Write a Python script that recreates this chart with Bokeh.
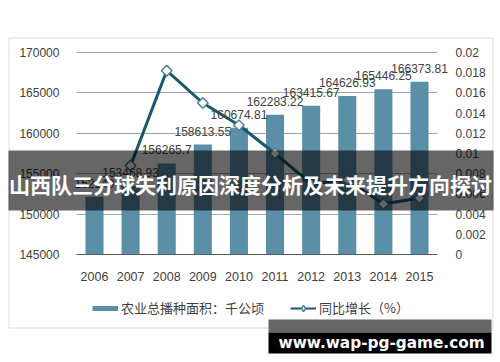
from bokeh.plotting import figure
from bokeh.models import (ColumnDataSource, Range1d, LinearAxis, FixedTicker,
                          CustomJSTickFormatter, BasicTickFormatter, LabelSet,
                          BoxAnnotation, Label, Legend, LegendItem)
from bokeh.core.properties import value
from bokeh.embed import file_html
from bokeh.resources import INLINE

years = ["2006", "2007", "2008", "2009", "2010", "2011", "2012", "2013", "2014", "2015"]
area = [152149.0, 153468.93, 156265.7, 158613.55, 160674.81, 162283.22,
        163415.67, 164626.93, 165446.25, 166373.81]
area_labels = ["152149", "153468.93", "156265.7", "158613.55", "160674.81", "162283.22",
               "163415.67", "164626.93", "165446.25", "166373.81"]
growth_years = ["2007", "2008", "2009", "2010", "2011", "2012", "2013", "2014", "2015"]
growth = [0.0088, 0.0182, 0.0150, 0.0128, 0.0100, 0.0070, 0.0074, 0.0050, 0.0056]
left_ticks = [145000, 150000, 155000, 160000, 165000, 170000]
right_ticks = [0, 0.002, 0.004, 0.006, 0.008, 0.01, 0.012, 0.014, 0.016, 0.018, 0.02]
title_text = "山西队三分球失利原因深度分析及未来提升方向探讨"
bar_name = "农业总播种面积：千公顷"
line_name = "同比增长（%）"
watermark = "www.wap-pg-game.com"

BAR = "#5b8fa7"
LINE = "#17596e"
TXT = "#404040"
NUM_FONT = "Liberation Sans"

xs = [int(y) for y in years]
gxs = [int(y) for y in growth_years]
x_lo, x_hi = xs[0] - 0.5, xs[-1] + 0.5

W, H = 500, 362
# plot region in pixels: x 76..437, y 52..254
px_per_year = (419 - 94) / 9.0
x_start = xs[0] - 94 / px_per_year
x_end = xs[-1] + (W - 419) / px_per_year
ppv = (254 - 52) / (left_ticks[-1] - left_ticks[0])
y_start = left_ticks[0] - (H - 254) / ppv
y_end = left_ticks[-1] + 52 / ppv
ppg = (254 - 52) / right_ticks[-1]
g_start = -(H - 254) / ppg
g_end = right_ticks[-1] + 52 / ppg

p = figure(width=W, height=H, x_range=Range1d(x_start, x_end), y_range=Range1d(y_start, y_end),
           output_backend="svg", toolbar_location=None,
           x_axis_location=None, y_axis_location=None, min_border=0)
p.outline_line_color = None
p.xgrid.visible = False
p.ygrid.ticker = FixedTicker(ticks=left_ticks[1:])
p.ygrid.grid_line_color = "#a6a6a6"
p.ygrid.cross_bounds = (x_lo, x_hi)

ly = LinearAxis(fixed_location=x_lo, ticker=FixedTicker(ticks=left_ticks),
                formatter=BasicTickFormatter(use_scientific=False))
ly.axis_line_color = None
ly.major_tick_line_color = None
ly.minor_tick_line_color = None
ly.major_label_standoff = 11
ly.major_label_text_font = NUM_FONT
ly.major_label_text_font_size = "12px"
ly.major_label_text_color = TXT
p.add_layout(ly, "left")

xa = LinearAxis(fixed_location=left_ticks[0], ticker=FixedTicker(ticks=xs),
                formatter=BasicTickFormatter(use_scientific=False), bounds=(x_lo, x_hi))
xa.axis_line_color = "#595959"
xa.major_tick_line_color = None
xa.minor_tick_line_color = None
xa.major_label_standoff = 11
xa.major_label_text_font = NUM_FONT
xa.major_label_text_font_size = "12.5px"
xa.major_label_text_color = TXT
p.add_layout(xa, "below")

p.extra_y_ranges = {"g": Range1d(g_start, g_end)}
ra = LinearAxis(y_range_name="g", fixed_location=x_hi, ticker=FixedTicker(ticks=right_ticks),
                formatter=CustomJSTickFormatter(code="return String(parseFloat(tick.toFixed(3)));"))
ra.axis_line_color = None
ra.major_tick_line_color = None
ra.minor_tick_line_color = None
ra.major_label_standoff = 12
ra.major_label_text_font = NUM_FONT
ra.major_label_text_font_size = "12px"
ra.major_label_text_color = TXT
p.add_layout(ra, "right")

bsrc = ColumnDataSource(dict(year=xs, area=area, label=area_labels))
p.vbar(x="year", top="area", bottom=left_ticks[0], width=0.5, source=bsrc,
       fill_color=BAR, line_color=None)

labels = LabelSet(x="year", y="area", text="label", source=bsrc,
                  text_align="center", text_baseline="alphabetic", y_offset=9,
                  text_font=value(NUM_FONT), text_font_size="12px", text_color=TXT)
p.add_layout(labels)

gsrc = ColumnDataSource(dict(year=gxs, g=growth))
line_r = p.line(x="year", y="g", source=gsrc, y_range_name="g",
                line_color=LINE, line_width=3)
sc_r = p.scatter(x="year", y="g", source=gsrc, y_range_name="g", marker="square",
                 angle=0.785398, size=7.5, fill_color="white", line_color="#4a8296",
                 line_width=1.5)
# legend marker: diamond (rotated square)
leg_mk = p.scatter(x=[float("nan")], y=[float("nan")], marker="diamond", size=10,
                   fill_color="white", line_color="#4a8296", line_width=1.5)

# legend proxy for the thin bar swatch used in the reference legend
proxy = p.line(x=[float("nan")], y=[float("nan")], line_color=BAR, line_width=5)
leg_line = p.line(x=[float("nan")], y=[float("nan")], line_color=LINE, line_width=2)

legend = Legend(items=[LegendItem(label=bar_name, renderers=[proxy]),
                       LegendItem(label=line_name, renderers=[leg_line, leg_mk])],
                location=(92, H - 317), orientation="horizontal",
                glyph_width=26, glyph_height=16, label_height=16, label_standoff=3, spacing=26,
                padding=0, margin=0, border_line_color=None, background_fill_alpha=0,
                label_text_font="Noto Sans CJK SC", label_text_font_size="13px",
                label_text_color=TXT)
p.add_layout(legend)

def box(l, r, t, b, **kw):
    # pixel box (top-left origin) -> screen units (bottom-left origin)
    return BoxAnnotation(left=l, right=r, top=H - t, bottom=H - b,
                         left_units="screen", right_units="screen",
                         top_units="screen", bottom_units="screen", **kw)

# outer chart border
p.add_layout(box(8.5, 492.5, 37.5, 327.5, fill_alpha=0, line_color="#8c8c8c",
                 line_width=1, level="underlay"))

# banner overlay
p.add_layout(box(8, 493, 150, 210, fill_color="black", fill_alpha=0.6, line_color=None))
p.add_layout(Label(x=250, y=H - 183.5, x_units="screen", y_units="screen", text=title_text,
                   text_align="center", text_baseline="middle", text_color="white",
                   text_font="Noto Sans CJK SC", text_font_style="bold",
                   text_font_size="21px"))

# watermark
p.add_layout(box(268, 491, 319, 332, fill_color="#666666", fill_alpha=1, line_color=None,
                 level="overlay"))
p.add_layout(box(268, 491, 332, 353, fill_color="black", fill_alpha=1, line_color=None,
                 level="overlay"))
p.add_layout(Label(x=278, y=H - 342, x_units="screen", y_units="screen", text=watermark,
                   text_align="left", text_baseline="alphabetic", text_color="white",
                   text_font="DejaVu Sans", text_font_style="bold",
                   text_font_size="15.3px", level="overlay"))

open("out.html", "w").write(file_html(p, INLINE))
